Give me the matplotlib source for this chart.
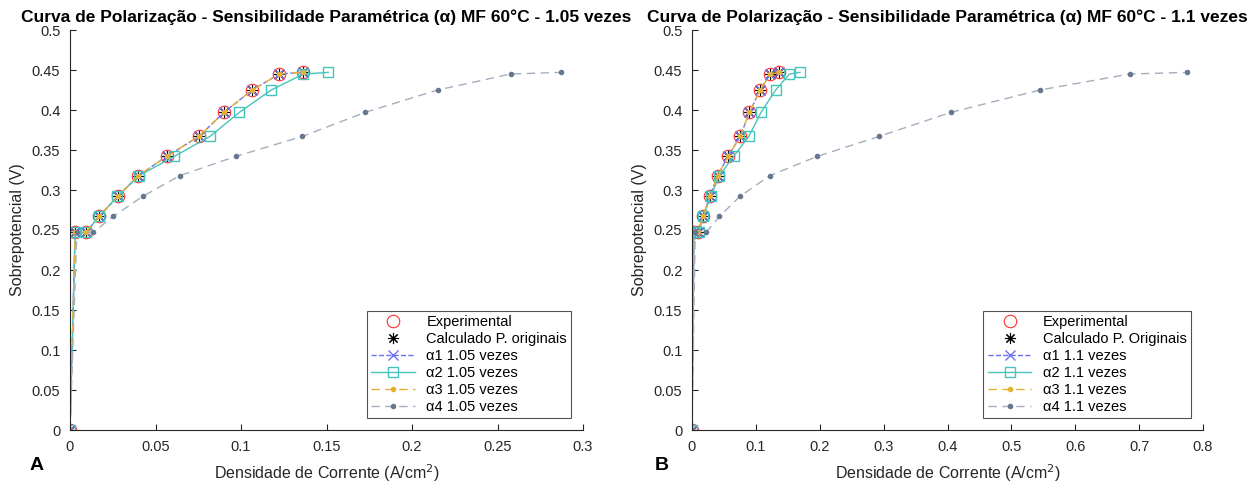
import numpy as np
import matplotlib.pyplot as plt
from matplotlib.ticker import MultipleLocator, FormatStrFormatter

plt.rcParams['font.family'] = ['Liberation Sans', 'DejaVu Sans']

# dados experimentais (iguais nos dois paineis)
j_exp = [0, 0.003, 0.0094, 0.017, 0.028, 0.040, 0.0565, 0.0754, 0.090, 0.1066, 0.1224, 0.136]
v_exp = [0, 0.247, 0.247, 0.267, 0.292, 0.318, 0.342, 0.367, 0.397, 0.425, 0.445, 0.447]

# painel A - 1.05 vezes
j_a2_105 = [0, 0.003, 0.0094, 0.017, 0.0277, 0.0405, 0.061, 0.0819, 0.099, 0.1177, 0.1365, 0.151]
j_a4_105 = [0, 0.004, 0.0136, 0.0253, 0.0425, 0.0643, 0.0969, 0.1359, 0.1725, 0.215, 0.2577, 0.287]

# painel B - 1.1 vezes
j_a2_11 = [0, 0.003, 0.0105, 0.018, 0.029, 0.043, 0.065, 0.089, 0.108, 0.131, 0.1525, 0.169]
j_a4_11 = [0, 0.005, 0.022, 0.043, 0.075, 0.122, 0.196, 0.293, 0.405, 0.545, 0.685, 0.775]

fig = plt.figure(figsize=(12.57, 4.88), dpi=100)
axA = fig.add_axes([70/1257, 58/488, 513/1257, 400/488])
axB = fig.add_axes([692/1257, 58/488, 511/1257, 400/488])

c_blue = '#6f6ff2'
c_cyan = '#47c4bc'
c_gold = '#e6b133'
c_gray_line = '#a4aebd'
c_gray_mk = '#66788f'
asterisco = (8, 2, 0)


def painel(ax, j_a2, j_a4, fator, calc_label, xmax, xstep, titulo):
    ax.plot(j_exp, v_exp, 'o', mfc='none', mec='#ff3030', ms=9, mew=0.8, label='Experimental')
    ax.plot(j_exp, v_exp, ls='none', marker=asterisco, color='black', ms=8, mew=0.8, label=calc_label)
    ax.plot(j_exp, v_exp, '--x', color=c_blue, lw=1, ms=7, label='α1 ' + fator + ' vezes')
    ax.plot(j_a2, v_exp, '-s', color=c_cyan, lw=1, ms=7, mfc='none', label='α2 ' + fator + ' vezes')
    ax.plot(j_exp, v_exp, '--.', color=c_gold, lw=1, ms=6, dashes=(6, 4), label='α3 ' + fator + ' vezes')
    ax.plot(j_a4, v_exp, '--.', color=c_gray_line, mfc=c_gray_mk, mec=c_gray_mk, lw=1, ms=6,
            dashes=(6, 4), label='α4 ' + fator + ' vezes')

    ax.set_xlim(0, xmax)
    ax.set_ylim(0, 0.5)
    ax.xaxis.set_major_locator(MultipleLocator(xstep))
    ax.yaxis.set_major_locator(MultipleLocator(0.05))
    ax.xaxis.set_major_formatter(FormatStrFormatter('%g'))
    ax.yaxis.set_major_formatter(FormatStrFormatter('%g'))
    ax.tick_params(direction='in', length=4, labelsize=10.5, colors='#262626', width=0.8, pad=7)
    for s in ['top', 'right']:
        ax.spines[s].set_visible(False)
    for s in ['left', 'bottom']:
        ax.spines[s].set_color('#262626')
        ax.spines[s].set_linewidth(0.8)
    ax.set_xlabel('Densidade de Corrente (A/cm$^2$)', fontsize=11.5, color='#262626', labelpad=6)
    ax.set_ylabel('Sobrepotencial (V)', fontsize=11.5, color='#262626', labelpad=5)
    ax.set_title(titulo, fontsize=12.5, fontweight='bold', pad=6)
    leg = ax.legend(loc='lower right', fontsize=10.5, frameon=True, fancybox=False,
                    edgecolor='#262626', borderaxespad=0.8, handlelength=3.0,
                    labelspacing=0.2, borderpad=0.3)
    leg.get_frame().set_linewidth(0.8)


painel(axA, j_a2_105, j_a4_105, '1.05', 'Calculado P. originais', 0.3, 0.05,
       'Curva de Polarização - Sensibilidade Paramétrica (α) MF 60°C - 1.05 vezes')
painel(axB, j_a2_11, j_a4_11, '1.1', 'Calculado P. Originais', 0.8, 0.1,
       'Curva de Polarização - Sensibilidade Paramétrica (α) MF 60°C - 1.1 vezes')

fig.text(30/1257, 1 - 465/488, 'A', fontsize=14, fontweight='bold', ha='left', va='center')
fig.text(655/1257, 1 - 465/488, 'B', fontsize=14, fontweight='bold', ha='left', va='center')

fig.savefig('out.png', dpi=100)
